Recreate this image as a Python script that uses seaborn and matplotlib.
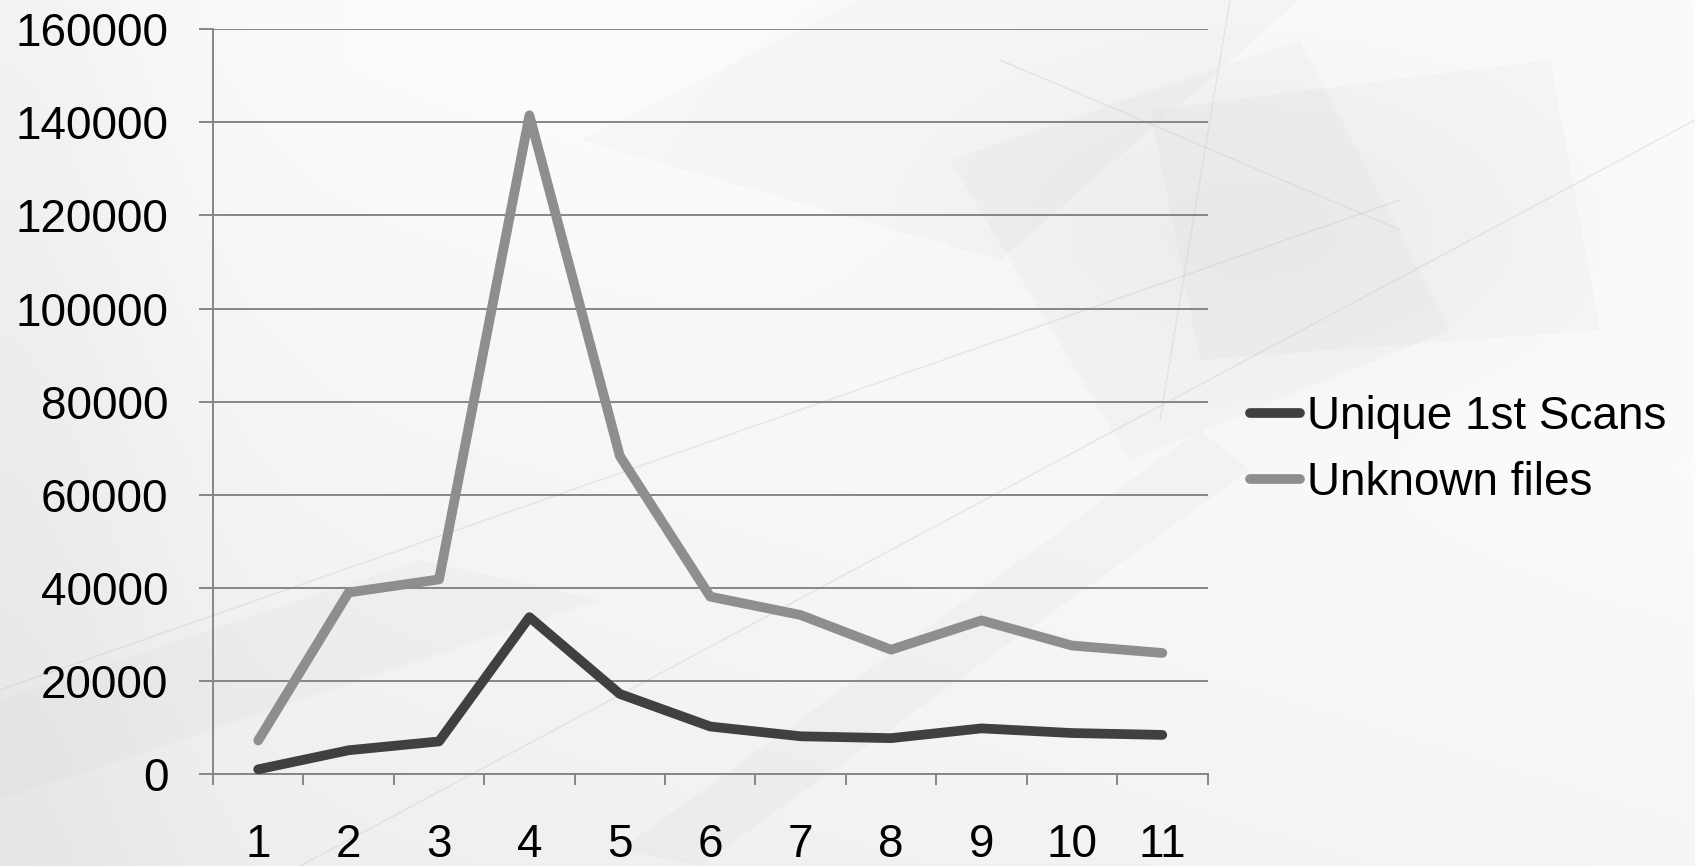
import numpy as np
import pandas as pd
import matplotlib
matplotlib.use("Agg")
import matplotlib.pyplot as plt
from matplotlib.patches import Polygon
from matplotlib.lines import Line2D
from matplotlib.ticker import FixedLocator, FixedFormatter
import seaborn as sns

# Series data
categories = ["1", "2", "3", "4", "5", "6", "7", "8", "9", "10", "11"]
unique_first_scans = [1000, 5100, 7000, 33700, 17200, 10200, 8100, 7700, 9800, 8800, 8400]
unknown_files = [7200, 39000, 41800, 141500, 68300, 38100, 34150, 26700, 33000, 27600, 26000]
series_names = ["Unique 1st Scans", "Unknown files"]
series_colors = ["#404040", "#8e8e8e"]
y_ticks = [0, 20000, 40000, 60000, 80000, 100000, 120000, 140000, 160000]

df = pd.DataFrame({
    "pos": list(range(len(categories))) * 2,
    "value": unique_first_scans + unknown_files,
    "series": [series_names[0]] * len(categories) + [series_names[1]] * len(categories),
})

sns.set_theme(style="white")
plt.rcParams["font.family"] = ["Liberation Sans", "DejaVu Sans"]
plt.rcParams["text.color"] = "black"

W, H, DPI = 1695, 866, 100
fig = plt.figure(figsize=(W / DPI, H / DPI), dpi=DPI)

# Soft slide-style backdrop: light gradient with faint geometric panels
bg = fig.add_axes([0, 0, 1, 1], zorder=0)
bg.set_xlim(0, W)
bg.set_ylim(H, 0)
bg.axis("off")
yy, xx = np.mgrid[0:H, 0:W]
shade = 0.985 - 0.05 * np.clip((yy / H) - 0.6 * (xx / W) + 0.05, 0, 1) \
        - 0.035 * np.exp(-(((xx - 1250) / 300.0) ** 2 + ((yy - 230) / 170.0) ** 2)) \
        - 0.03 * np.exp(-((xx / 180.0) ** 2))
shade = np.clip(shade, 0.85, 1.0)
bg.imshow(np.dstack([shade] * 3), extent=(0, W, H, 0), aspect="auto", zorder=0)
panels = [
    [(580, 140), (860, 0), (1300, 0), (1000, 260)],
    [(950, 160), (1300, 40), (1450, 330), (1130, 460)],
    [(1150, 110), (1550, 60), (1600, 330), (1200, 360)],
    [(0, 700), (420, 560), (600, 600), (0, 800)],
    [(620, 850), (1200, 430), (1250, 470), (700, 866)],
]
for pts in panels:
    bg.add_patch(Polygon(pts, closed=True, facecolor="#a0a0a0", edgecolor="none",
                         alpha=0.05, zorder=1))
for (x0, y0, x1, y1) in [(0, 690, 1400, 200), (300, 866, 1695, 120),
                         (1000, 60, 1400, 230), (1230, 0, 1160, 420)]:
    bg.plot([x0, x1], [y0, y1], color="#c4c4c4", lw=1.0, alpha=0.35, zorder=1)

ax = fig.add_axes([213 / W, 1 - 774 / H, (1207.5 - 213) / W, (774 - 29.2) / H], zorder=1)
ax.patch.set_alpha(0)

sns.lineplot(data=df, x="pos", y="value", hue="series", hue_order=series_names,
             palette=series_colors, linewidth=7, ax=ax, legend=False,
             solid_capstyle="round", solid_joinstyle="round", zorder=3)

ax.set_xlim(-0.5, len(categories) - 0.5)
ax.set_ylim(0, 160000)
ax.set_xlabel("")
ax.set_ylabel("")

grid_c = "#868686"
ax.yaxis.set_major_locator(FixedLocator(y_ticks))
ax.yaxis.set_major_formatter(FixedFormatter([str(v) for v in y_ticks]))
ax.grid(axis="y", color=grid_c, linewidth=1.4, zorder=1)
ax.grid(axis="x", visible=False)

ax.xaxis.set_major_locator(FixedLocator(list(range(len(categories)))))
ax.xaxis.set_major_formatter(FixedFormatter(categories))
ax.xaxis.set_minor_locator(FixedLocator([i - 0.5 for i in range(len(categories) + 1)]))

for s in ["top", "right"]:
    ax.spines[s].set_visible(False)
for s in ["left", "bottom"]:
    ax.spines[s].set_color(grid_c)
    ax.spines[s].set_linewidth(1.4)

ax.tick_params(axis="y", which="major", direction="out", length=10, width=1.4,
               color=grid_c, labelsize=33, labelcolor="black", pad=22, left=True)
ax.tick_params(axis="x", which="major", length=0, labelsize=33, labelcolor="black", pad=35)
ax.tick_params(axis="x", which="minor", direction="out", length=8, width=1.4,
               color=grid_c, bottom=True)

# Legend
handles = [Line2D([0], [0], color=c, lw=7, solid_capstyle="round") for c in series_colors]
leg = fig.legend(handles, series_names, loc="upper left",
                 bbox_to_anchor=(1250 / W, 1 - 395 / H), frameon=False,
                 fontsize=33, handlelength=1.1, handletextpad=0.15, labelspacing=0.48,
                 borderaxespad=0, borderpad=0)
for t in leg.get_texts():
    t.set_color("black")

fig.savefig("out.png", dpi=DPI)
